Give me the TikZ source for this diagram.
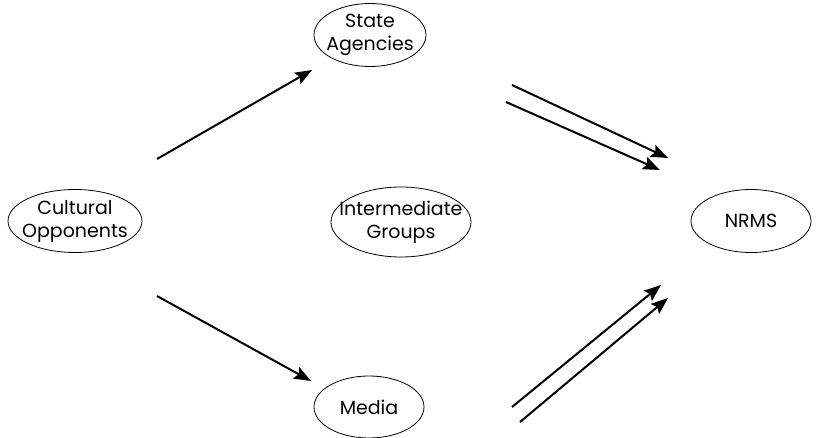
\documentclass[tikz,border=0pt]{standalone}
\usepackage{fontspec}
\setmainfont{Poppins}
\usetikzlibrary{shapes.geometric,arrows.meta}

\begin{document}
\begin{tikzpicture}[x=1pt, y=-1pt, line width=2pt,
    main/.style = {draw, ellipse, line width=0.8pt, align=center, inner xsep=-12pt, inner ysep=-2pt,
      font=\fontsize{19}{23}\selectfont},
    arr/.style = {-{Stealth[length=17pt, width=13pt, inset=3pt]}}]
      \useasboundingbox (0,0) rectangle (823,438);
      \node[main, minimum width=134pt, minimum height=63pt] (cult) at (75,221) {Cultural\\Opponents};
      \node[main, minimum width=112pt, minimum height=63pt] (state) at (370,35) {State\\Agencies};
      \node[main, minimum width=114pt, minimum height=70pt] (mid) at (401,222) {Intermediate\\Groups};
      \node[main, minimum width=110pt, minimum height=62pt] (media) at (369,407) {Media};
      \node[main, minimum width=120pt, minimum height=63pt] (nrms) at (751,221) {NRMS};

      % arrow ends
      \coordinate (c_s) at (157,159);
      \coordinate (s_c) at (312,70);
      \coordinate (c_m) at (157,296);
      \coordinate (m_c) at (311,381);
      \coordinate (s_n1) at (512,85);
      \coordinate (n_s1) at (668,158);
      \coordinate (s_n2) at (506,102);
      \coordinate (n_s2) at (660,170);
      \coordinate (m_n1) at (512,407);
      \coordinate (n_m1) at (661,285);
      \coordinate (m_n2) at (520,422);
      \coordinate (n_m2) at (668,298);

      \draw[arr] (c_s) -- (s_c);
      \draw[arr] (c_m) -- (m_c);
      \draw[arr] (s_n1) -- (n_s1);
      \draw[arr] (s_n2) -- (n_s2);
      \draw[arr] (m_n1) -- (n_m1);
      \draw[arr] (m_n2) -- (n_m2);
    \end{tikzpicture}
\end{document}
